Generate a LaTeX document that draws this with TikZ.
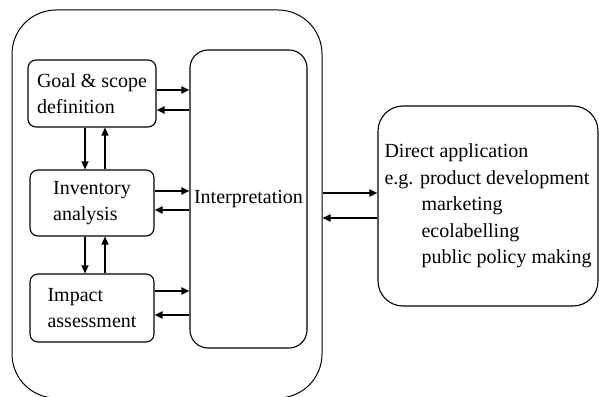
\documentclass[tikz,border=0pt]{standalone}
\usepackage{fontspec}
\setmainfont{Liberation Serif}
\usetikzlibrary{arrows.meta}
\begin{document}
\begin{tikzpicture}[x=1pt,y=-1pt,
  box/.style={draw,line width=1.1pt,rounded corners=8pt,inner sep=0pt,align=left,font=\fontsize{20}{26.5}\selectfont},
  harr/.style={line width=1.8pt,-{Triangle[length=8pt,width=7pt]}},
  varr/.style={line width=1.3pt,-{Triangle[length=8pt,width=7pt]}}]
\useasboundingbox (0,0) rectangle (599,396);
\begin{scope}
\clip (0,0) rectangle (599,396);
\node[draw,line width=1pt,rounded corners=44pt,minimum width=310pt,minimum height=388pt,inner sep=0pt] (lca) at (167,204) {};
\end{scope}
\node[box,minimum width=128pt,minimum height=67pt] (goal) at (92,93.5) {Goal \& scope\\definition};
\node[box,minimum width=124pt,minimum height=66pt] (inv) at (92,203) {Inventory\\analysis};
\node[box,minimum width=124pt,minimum height=68pt] (imp) at (92,308) {Impact\\assessment};
\node[box,rounded corners=18pt,minimum width=117pt,minimum height=298pt] (interp) at (248.5,199) {Interpretation};
\node[box,rounded corners=25pt,minimum width=220pt,minimum height=200pt] (direct) at (488,206) {Direct application\\e.g. product development\\\hspace*{37pt}marketing\\\hspace*{37pt}ecolabelling\\\hspace*{37pt}public policy making};
% goal/inventory/impact <-> interpretation
\draw[harr] (goal.east |- 0,90) -- (interp.west |- 0,90);
\draw[harr] (interp.west |- 0,110) -- (goal.east |- 0,110);
\draw[harr] (inv.east |- 0,191) -- (interp.west |- 0,191);
\draw[harr] (interp.west |- 0,210) -- (inv.east |- 0,210);
\draw[harr] (imp.east |- 0,291) -- (interp.west |- 0,291);
\draw[harr] (interp.west |- 0,315) -- (imp.east |- 0,315);
% vertical
\draw[varr] (goal.south -| 85,0) -- (inv.north -| 85,0);
\draw[varr] (inv.north -| 105,0) -- (goal.south -| 105,0);
\draw[varr] (inv.south -| 85,0) -- (imp.north -| 85,0);
\draw[varr] (imp.north -| 105,0) -- (inv.south -| 105,0);
% outer <-> direct
\draw[harr] (lca.east |- 0,193) -- (direct.west |- 0,193);
\draw[harr] (direct.west |- 0,218) -- (lca.east |- 0,218);
\end{tikzpicture}
\end{document}
